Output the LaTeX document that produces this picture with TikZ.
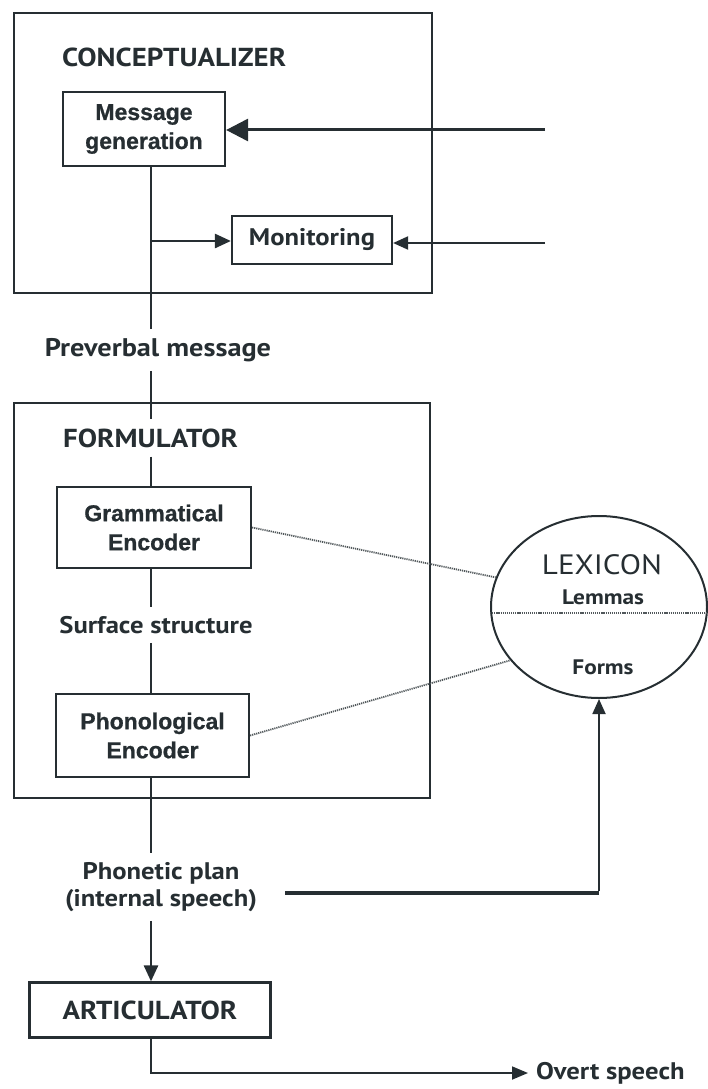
\documentclass[tikz,border=0pt]{standalone}
\usepackage{fontspec}
\setmainfont{PT Sans}[FakeStretch=1.11]
\newfontfamily\arialbold{Liberation Sans Bold}[FakeBold=0.8]
\usetikzlibrary{arrows.meta,shapes.geometric}
\definecolor{ink}{RGB}{38,46,50}
\begin{document}
\begin{tikzpicture}[x=1pt,y=-1pt,
  every node/.style={text=ink, inner sep=0pt},
  frame/.style={draw=ink, line width=2.2pt},
  procbox/.style={draw=ink, line width=2.2pt, font=\arialbold\fontsize{23}{29}\selectfont, align=center},
  lbl/.style={font=\bfseries\fontsize{24}{27}\selectfont, align=center, inner ysep=9pt},
  ttl/.style={font=\bfseries\fontsize{26}{30}\selectfont, inner ysep=9pt},
  flow/.style={draw=ink, line width=1.8pt},
  dots/.style={draw=ink!80, line width=1.8pt, dash pattern=on 1.2pt off 0.9pt},
  bigarrow/.style={draw=ink, line width=3pt, -{Triangle[length=22pt,width=22pt]}},
  medarrow/.style={draw=ink, line width=2.6pt, -{Triangle[length=16pt,width=14pt]}},
  smallarrow/.style={draw=ink, line width=2pt, -{Triangle[length=15pt,width=13pt]}}
]
\useasboundingbox (0,0) rectangle (707,1089);

% frames
\node[frame, minimum width=418pt, minimum height=280pt] (concept) at (223,153) {};
\node[frame, minimum width=416pt, minimum height=395pt] (form) at (222,600.5) {};

% conceptualizer content
\node[ttl, anchor=west] (ctitle) at (62,57) {CONCEPTUALIZER};
\node[procbox, minimum width=162pt, minimum height=74pt] (mg) at (144,129) {Message\\generation};
\node[lbl, draw=ink, line width=2.2pt, inner xsep=0pt, inner ysep=0pt, minimum width=160pt, minimum height=48pt] (mon) at (312,240) {Monitoring};
\coordinate (spine) at (151,0);
\coordinate (tap) at (151,241);
\coordinate (in1) at (545,130);
\coordinate (in2) at (545,243);

% preverbal
\node[lbl, font=\bfseries\fontsize{25.5}{29}\selectfont] (pv) at (158,350) {Preverbal message};

% formulator content
\node[ttl, anchor=west] (ftitle) at (63,438) {FORMULATOR};
\node[procbox, minimum width=194pt, minimum height=81pt] (ge) at (154,527.5) {Grammatical\\Encoder};
\node[lbl] (ss) at (156,625) {Surface structure};
\node[procbox, minimum width=193pt, minimum height=83pt] (pe) at (152.5,735.5) {Phonological\\Encoder};

% lexicon
\node[draw=ink, line width=2pt, ellipse, minimum width=216pt, minimum height=182pt] (lex) at (599,607) {};
\node[font=\fontsize{28}{32}\selectfont] (lexT) at (602,565) {LEXICON};
\node[font=\bfseries\fontsize{21}{24}\selectfont] (lem) at (603,597) {Lemmas};
\node[font=\bfseries\fontsize{21}{24}\selectfont] (frm) at (603,667) {Forms};
\draw[dots] (lex.west |- 0,613) -- (707,613);

% phonetic plan, articulator, overt speech
\node[lbl] (pp) at (161,887) {Phonetic plan\\(internal speech)};
\node[lbl, font=\bfseries\fontsize{26}{30}\selectfont, draw=ink, line width=2.2pt, inner ysep=0pt, minimum width=241pt, minimum height=55pt] (art) at (150,1010) {ARTICULATOR};
\node[lbl, anchor=west, inner ysep=0pt] (overt) at (536,1073) {Overt speech};
\coordinate (ppout) at (285,893);

% spine
\draw[flow] (mg.south -| spine) -- (pv.north -| spine);
\draw[flow] (pv.south -| spine) -- (ftitle.north -| spine);
\draw[flow] (ftitle.south -| spine) -- (ge.north -| spine);
\draw[flow] (ge.south -| spine) -- (ss.north -| spine);
\draw[flow] (ss.south -| spine) -- (pe.north -| spine);
\draw[flow] (pe.south -| spine) -- (pp.north -| spine);
\draw[medarrow] (pp.south -| spine) -- (art.north -| spine);
\draw[flow, -{Triangle[length=16pt,width=13pt]}, shorten >=8pt] (art.south -| spine) |- (overt.west);

% inputs
\draw[bigarrow] (in1) -- (mg.east |- in1);
\draw[medarrow] (tap) -- (mon.west |- tap);
\draw[smallarrow] (in2) -- (mon.east |- in2);

% lexicon links
\draw[dots] (ge.east) -- (lex.164);
\draw[dots] (pe.east) -- (lex.211);
\draw[draw=ink, line width=3.2pt] (ppout) -- (ppout -| lex.south);
\draw[flow, -{Triangle[length=15pt,width=13pt]}] ([yshift=1.6pt]ppout -| lex.south) -- (lex.south);
\end{tikzpicture}
\end{document}
